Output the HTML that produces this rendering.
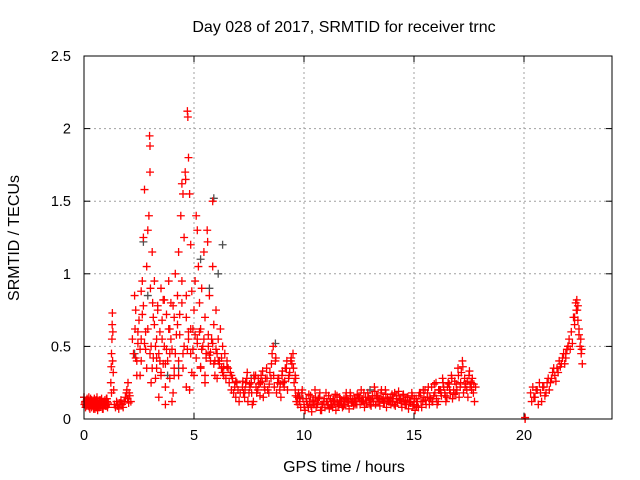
<!DOCTYPE html>
<html><head><meta charset="utf-8"><style>
html,body{margin:0;padding:0;background:#fff}
svg{display:block;font-family:"Liberation Sans",sans-serif}
</style></head><body>
<svg id="chart" width="640" height="480">
<text x="344" y="32" text-anchor="middle" font-size="16" fill="#000">Day 028 of 2017, SRMTID for receiver trnc</text>
<text x="344" y="472" text-anchor="middle" font-size="16" fill="#000">GPS time / hours</text>
<text x="0" y="0" transform="translate(19,238) rotate(-90)" text-anchor="middle" font-size="16" fill="#000">SRMTID / TECUs</text>
<g id="grid"></g>
<g id="ticks"></g>
<g id="gray"></g>
<g id="red"></g>
<rect x="84" y="56" width="528" height="363" fill="none" stroke="#000" stroke-width="1"/>
</svg>
<script>
const xTicks=[0,5,10,15,20];
const yTicks=[0,0.5,1,1.5,2,2.5];
const yTickLabels=["0","0.5","1","1.5","2","2.5"];
const segStart=[0.0,0.02,1.38,7.2,7.25,9.6,9.65,15.0,15.05,20.3,20.35,0.04,9.62,15.02,7.22];
const segStep=[0.05,0.05,0.05,0.1,0.1,0.1,0.1,0.1,0.1,0.1,0.1,0.05,0.1,0.1,0.1];
const segValues=[
[.15,.12,.10,.13,.09,.11,.14,.08,.12,.10,.07,.13,.11,.09,.12,.10,.14,.08,.11,.13,.09,.12,.10],
[.10,.08,.13,.11,.15,.07,.10,.12,.09,.14,.11,.08,.06,.10,.13,.09,.12,.07,.11,.10,.14,.08],
[.10,.08,.12,.09,.07,.11,.13,.10,.08,.12,.15,.18,.14,.11,.16,.12],
[.22,.15,.28,.18,.25,.12,.30,.20,.16,.26,.22,.35,.18,.28,.50,.40,.25,.20,.30,.22,.35,.28,.40,.45,.30],
[.18,.25,.12,.22,.10,.28,.18,.24,.30,.15,.28,.20,.32,.45,.22,.18,.28,.15,.25,.35,.20,.32,.38,.25],
[.20,.15,.12,.18,.10,.14,.08,.16,.12,.20,.10,.15,.06,.12,.18,.10,.14,.08,.12,.16,.10,.13,.09,.15,.11,.18,.12,.14,.10,.16,.20,.12,.15,.18,.10,.14,.22,.16,.12,.18,.14,.20,.15,.12,.17,.10,.14,.19,.13,.16,.10,.15,.12,.18,.14],
[.12,.18,.08,.14,.06,.10,.12,.05,.10,.08,.14,.06,.10,.08,.12,.07,.10,.13,.06,.09,.12,.08,.10,.14,.07,.11,.09,.12,.15,.10,.13,.08,.11,.14,.09,.12,.10,.15,.09,.13,.11,.08,.12,.10,.14,.09,.11,.13,.08,.12,.10,.07,.11,.09],
[.10,.14,.08,.18,.12,.20,.15,.10,.22,.16,.25,.12,.20,.28,.18,.15,.24,.30,.20,.18,.35,.22,.40,.28,.20,.30,.25,.18,.22],
[.06,.12,.18,.08,.15,.10,.22,.14,.12,.18,.10,.20,.16,.22,.12,.25,.18,.14,.26,.20,.15,.32,.18,.24,.15,.22,.28,.12],
[.18,.22,.15,.20,.25,.12,.22,.18,.28,.25,.32,.30,.35,.40,.38,.45,.42,.50],
[.12,.15,.20,.10,.18,.22,.16,.25,.20,.28,.35,.26,.32,.36,.42,.38,.48],
[.11,.09,.14,.12,.08,.10,.13,.11,.07,.12,.09,.15,.10,.08,.11,.13,.07,.12,.10,.09,.14,.11],
[.16,.10,.14,.20,.08,.12,.17,.09,.13,.15,.11,.18,.10,.14,.12,.16,.09,.13,.17,.11,.15,.10,.14,.18,.12,.16,.13,.10,.17,.14,.12,.18,.11,.15,.13,.16,.19,.12,.14,.20,.11,.17,.13,.15,.12,.18,.16,.14,.11,.17,.13,.15,.12,.16],
[.14,.09,.16,.12,.20,.13,.18,.15,.12,.24,.14,.20,.18,.25,.16,.22,.20,.28,.17,.24,.30,.25,.36,.22,.26,.33,.20,.24],
[.26,.20,.32,.24,.18,.30,.22,.28,.25,.33,.20,.28,.24,.38,.30,.42,.28,.24,.33,.26,.40,.30,.42,.35,.28]
];
const ptTimes=[1.22,1.24,1.25,1.27,1.28,1.29,1.31,1.3,1.33,1.35,1.25,1.95,2.0,2.05,
2.2,2.25,2.3,2.32,2.35,2.4,2.45,2.5,2.55,2.6,2.6,2.65,2.7,2.7,2.75,2.8,2.85,2.85,2.9,2.95,2.98,3.0,3.0,3.02,3.05,3.05,3.1,3.12,3.15,3.2,3.2,3.25,3.3,3.3,
3.35,3.4,3.45,3.5,3.5,3.55,3.6,3.6,3.65,3.7,3.75,3.8,3.85,3.9,3.9,3.95,4.0,4.05,4.1,4.1,4.15,4.2,4.25,4.3,4.3,4.35,3.4,3.7,4.0,
4.4,4.45,4.45,4.5,4.5,4.55,4.6,4.62,4.65,4.65,4.7,4.72,4.75,4.75,4.8,4.8,4.85,4.85,4.9,4.95,5.0,5.0,5.05,
5.1,5.15,5.15,5.2,5.25,5.3,5.3,5.35,5.4,5.45,5.5,5.5,5.55,5.6,5.62,5.65,5.7,5.75,5.8,5.85,5.85,5.9,5.95,6.0,6.0,6.05,6.1,6.15,6.2,6.25,6.3,6.35,6.4,6.45,
6.5,6.55,6.6,6.65,6.7,6.75,6.8,6.85,6.9,6.95,7.0,7.05,7.1,
20.05,20.05,
22.05,22.1,22.15,22.2,22.25,22.3,22.35,22.4,22.42,22.45,22.5,22.55,22.6,22.65,
2.35,2.45,2.55,2.65,2.75,2.9,3.0,3.15,3.25,3.35,3.45,3.55,3.65,3.75,3.85,3.95,4.05,4.15,4.25,4.35,4.45,4.55,4.65,4.75,4.85,4.95,5.05,5.15,5.25,5.35,5.45,5.55,5.65,5.75,5.85,5.95,6.05,6.15,6.25,6.35,
2.4,2.6,2.8,3.1,3.3,3.5,3.7,3.9,4.1,4.3,4.5,4.7,4.9,5.1,5.3,5.5,5.7,5.9,6.1,6.3,6.5,6.7,6.9,
22.3,22.38,22.45,22.5,22.58,22.62,21.9,22.0];
const ptValues=[.25,.36,.45,.55,.65,.73,.60,.40,.32,.20,.18,.20,.25,.18,
.55,.45,.85,.62,.75,.40,.52,.68,.30,.88,.55,.95,.78,1.25,1.58,.60,1.05,.35,1.30,1.40,1.95,1.88,1.70,.90,.50,.25,1.15,.80,.42,.65,.95,.28,.55,.35,
.75,.45,.60,.30,.90,.68,.38,.82,.50,.22,.72,.40,.95,.62,.28,.80,.48,.18,.70,.35,1.0,.58,.85,.30,1.15,.72,.15,.10,.12,
1.40,1.62,.95,1.55,.45,1.25,1.70,1.65,.85,.22,2.12,2.08,1.80,.60,1.55,.20,1.20,.45,.88,.62,.30,.75,.95,
1.40,1.30,.55,1.05,.80,.35,.62,.90,.50,1.15,.25,.70,.45,1.30,1.22,.58,.85,.40,.55,1.50,1.05,.65,.30,.48,.75,.28,.55,.40,.62,.35,.50,.30,.45,.28,
.40,.35,.25,.32,.20,.28,.18,.22,.15,.25,.20,.12,.18,
0.0,0.01,
.55,.48,.60,.52,.70,.65,.80,.82,.75,.68,.58,.50,.45,.38,
.42,.60,.48,.72,.52,.62,.45,.70,.50,.78,.40,.55,.82,.48,.62,.55,.78,.45,.65,.58,.80,.50,.70,.55,.62,.48,.58,.52,.60,.48,.55,.42,.50,.46,.52,.40,.45,.38,.42,.36,
.30,.40,.48,.35,.42,.32,.38,.45,.30,.40,.35,.48,.32,.42,.36,.30,.44,.38,.40,.32,.36,.30,.26,
.70,.75,.78,.62,.55,.48,.45,.50];
const grayTimes=[0,2.7,5.9,4.3,5.3,6.3,8.7,9.8,7.6,2.3,13,3.8,2.9,5.7,6.1];
const grayValues=[.15,1.22,1.52,.35,1.1,1.2,.52,.15,.28,.45,.2,.3,.85,.9,1.0];

const X0=84,X1=612,Y0=419,Y1=56,XMAX=24,YMAX=2.5;
const sx=t=>X0+(X1-X0)*t/XMAX;
const sy=v=>Y0-(Y0-Y1)*v/YMAX;
const NS="http://www.w3.org/2000/svg";
function mk(tag,attrs,parent){const e=document.createElementNS(NS,tag);for(const k in attrs)e.setAttribute(k,attrs[k]);parent.appendChild(e);return e;}
const grid=document.getElementById('grid'),ticks=document.getElementById('ticks');
xTicks.forEach((t,i)=>{
  const x=sx(t);
  if(t>0){const l=mk('line',{x1:x,x2:x,y1:Y0,y2:Y1,stroke:'#a0a0a0','stroke-dasharray':'2,3'},grid);
  
  }
  mk('line',{x1:x,x2:x,y1:Y0,y2:Y0-6,stroke:'#000'},ticks);
  mk('line',{x1:x,x2:x,y1:Y1,y2:Y1+6,stroke:'#000'},ticks);
  const tx=mk('text',{x:x,y:Y0+21,'text-anchor':'middle','font-size':'14.5'},ticks);
  tx.textContent=String(t);
  
  
});
yTicks.forEach((v,i)=>{
  const y=sy(v);
  if(v>0&&v<YMAX){const l=mk('line',{x1:X0,x2:X1,y1:y,y2:y,stroke:'#a0a0a0','stroke-dasharray':'2,3'},grid);
  
  }
  mk('line',{x1:X0,x2:X0+6,y1:y,y2:y,stroke:'#000'},ticks);
  mk('line',{x1:X1,x2:X1-6,y1:y,y2:y,stroke:'#000'},ticks);
  const tx=mk('text',{x:X0-13,y:y+5,'text-anchor':'end','font-size':'14.5'},ticks);
  tx.textContent=yTickLabels[i];
  
  
});
function plus(g,t,v,col){
  const x=sx(t),y=sy(v);
  const p=mk('path',{d:`M${x-4},${y}H${x+4}M${x},${y-4}V${y+4}`,stroke:col,'stroke-width':'1.3',fill:'none'},g);
  
  
}
const gg=document.getElementById('gray'),rg=document.getElementById('red');
grayTimes.forEach((t,i)=>plus(gg,t,grayValues[i],'#505050'));
segValues.forEach((vals,s)=>vals.forEach((v,i)=>plus(rg,segStart[s]+segStep[s]*i,v,'#ff0000')));
ptTimes.forEach((t,i)=>plus(rg,t,ptValues[i],'#ff0000'));
</script>
</body></html>
